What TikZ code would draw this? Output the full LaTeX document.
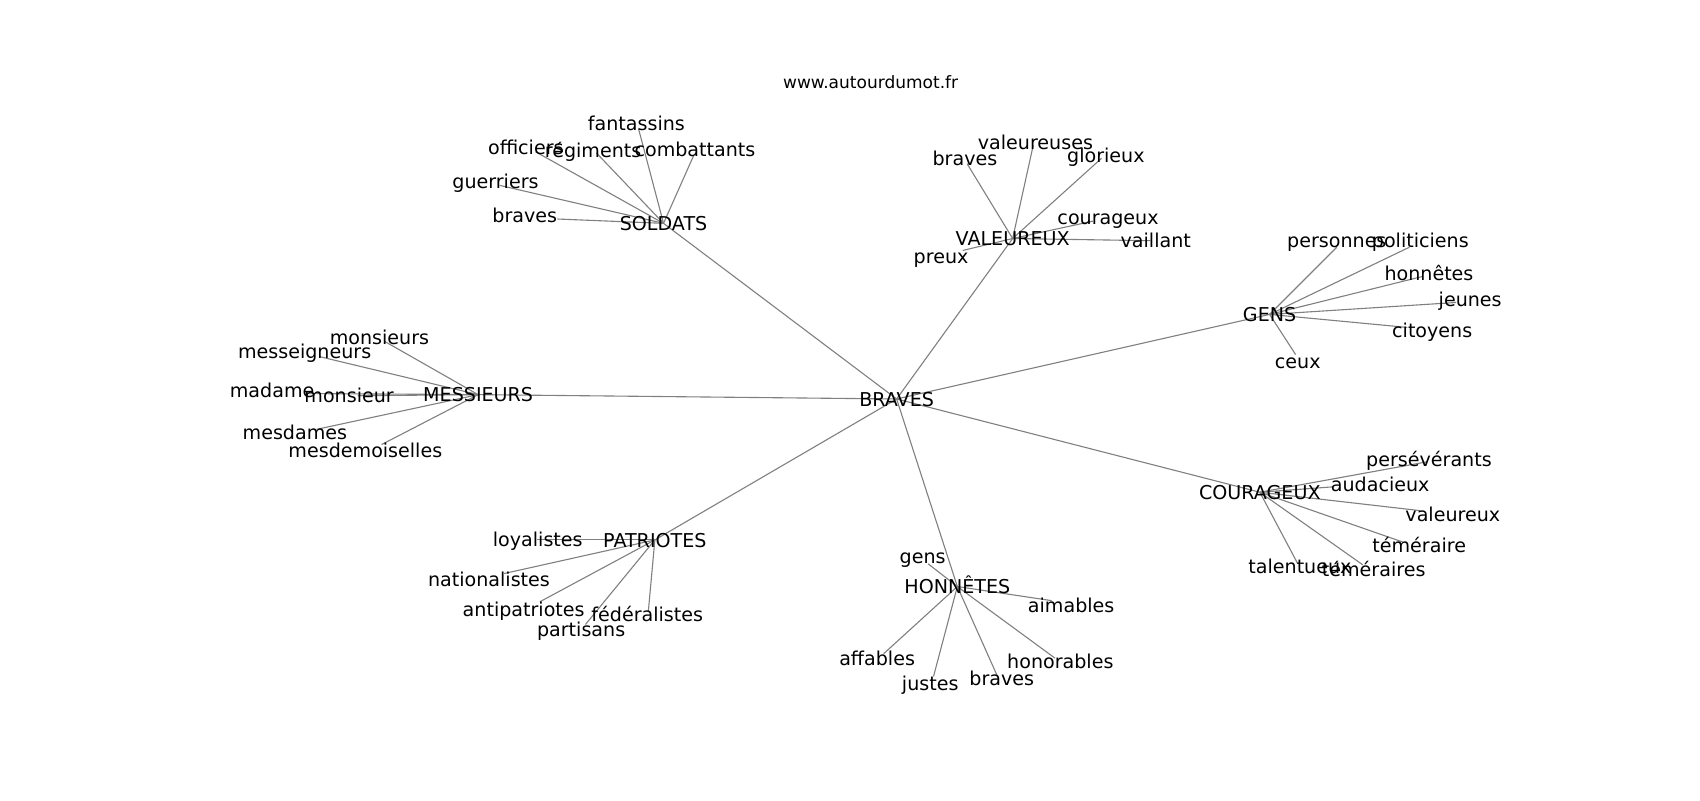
\documentclass[tikz,border=0pt]{standalone}
\usepackage{fontspec}
\setmainfont{DejaVu Sans}
\usetikzlibrary{backgrounds}

% feuilles d'un mot : #1 = mot central, #2 = liste mot/x/y/bout x/bout y
\newcommand{\feuilles}[2]{%
  \foreach \mot/\lx/\ly/\ex/\ey [count=\i] in {#2} {
    \node[lbl] (#1-\i) at (\lx,\ly) {\mot};
    \coordinate (#1-b\i) at (\ex,\ey);
    \begin{pgfonlayer}{background}
      \draw[edge] (#1.center) -- (#1-b\i);
    \end{pgfonlayer}
  }}

\begin{document}
\begin{tikzpicture}[x=0.27539mm,y=-0.27539mm,
    lbl/.style={inner sep=0pt, text height=1.04em, text depth=0em,
      font=\fontsize{13.8}{16}\selectfont},
    edge/.style={draw=black!50, line width=0.8pt}]
  \useasboundingbox (0,0) rectangle (1568,738);
  \node[font=\fontsize{12.3}{14}\selectfont] (titre) at (803,76) {www.autourdumot.fr};

  % mots principaux
  \node[lbl] (braves) at (827,368) {BRAVES};
  \node[lbl] (soldats) at (612,206) {SOLDATS};
  \node[lbl] (valeureux) at (934,220) {VALEUREUX};
  \node[lbl] (gens) at (1171,290) {GENS};
  \node[lbl] (messieurs) at (441,364) {MESSIEURS};
  \node[lbl] (patriotes) at (604,498) {PATRIOTES};
  \node[lbl] (honnetes) at (883,541) {HONNÊTES};
  \node[lbl] (courageux) at (1162,454) {COURAGEUX};
  \begin{pgfonlayer}{background}
    \foreach \h in {soldats,valeureux,gens,messieurs,patriotes,honnetes,courageux}
      \draw[edge] (braves.center) -- (\h.center);
  \end{pgfonlayer}

  \feuilles{soldats}{fantassins/587/114/589/119, officiers/485/136/494/140,
    régiments/547/139/550/141, combattants/641/138/640/143,
    guerriers/457/167/461/171, braves/484/199/514/202}
  \feuilles{valeureux}{braves/890/146/892/151, valeureuses/955/131/953/134,
    glorieux/1020/143/1016/146, courageux/1022/200/1008/204,
    vaillant/1066/222/1061/222, preux/868/236/888/231}
  \feuilles{gens}{personnes/1233/222/1233/228, politiciens/1310/222/1300/228,
    honnêtes/1318/252/1312/255, jeunes/1356/276/1343/279,
    citoyens/1321/305/1298/302, ceux/1197/333/1195/327}
  \feuilles{messieurs}{monsieurs/350/311/355/315, messeigneurs/281/324/295/329,
    madame/251/360/283/363, monsieur/322/365/330/365,
    mesdames/272/399/292/396, mesdemoiselles/337/415/352/410}
  \feuilles{patriotes}{loyalistes/496/497/495/498, nationalistes/451/534/465/529,
    antipatriotes/483/562/498/555, fédéralistes/597/567/598/564,
    partisans/536/580/540/576}
  \feuilles{honnetes}{gens/851/513/856/520, aimables/988/558/970/554,
    affables/809/607/815/603, justes/858/630/861/624,
    braves/924/626/921/626, honorables/978/610/973/607}
  \feuilles{courageux}{persévérants/1318/424/1316/426, audacieux/1273/447/1230/449,
    valeureux/1340/474/1310/471, téméraire/1309/503/1294/500,
    talentueux/1199/522/1197/520, téméraires/1267/525/1257/521}
\end{tikzpicture}
\end{document}
